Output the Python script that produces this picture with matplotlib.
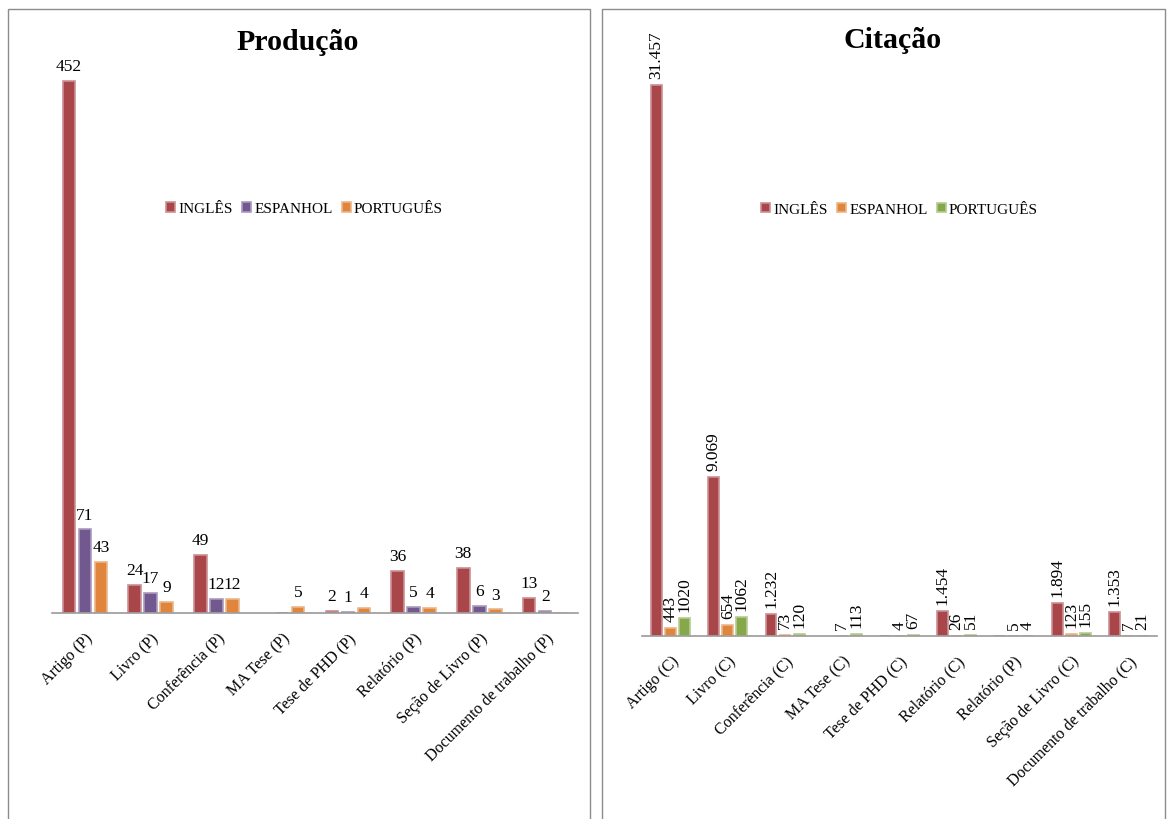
import numpy as np
import matplotlib.pyplot as plt
import matplotlib.colors as mc
from matplotlib.patches import Rectangle

plt.rcParams['font.family'] = ['Liberation Serif', 'DejaVu Serif']

# ---- data: Produção ----
prod_cats = ['Artigo (P)', 'Livro (P)', 'Conferência (P)', 'MA Tese (P)',
             'Tese de PHD (P)', 'Relatório (P)', 'Seção de Livro (P)',
             'Documento de trabalho (P)']
prod_ingles = [452, 24, 49, np.nan, 2, 36, 38, 13]
prod_espanhol = [71, 17, 12, 0, 1, 5, 6, 2]
prod_portugues = [43, 9, 12, 5, 4, 4, 3, 0]

# ---- data: Citação ----
cit_cats = ['Artigo (C)', 'Livro (C)', 'Conferência (C)', 'MA Tese (C)',
            'Tese de PHD (C)', 'Relatório (C)', 'Relatório (P)',
            'Seção de Livro (C)', 'Documento de trabalho (C)']
cit_ingles = [31457, 9069, 1232, np.nan, 0, 1454, 0, 1894, 1353]
cit_espanhol = [443, 654, 73, 7, 4, 26, 5, 123, 7]
cit_portugues = [1020, 1062, 120, 113, 67, 51, 4, 155, 21]
cit_ingles_lbl = ['31.457', '9.069', '1.232', '', '', '1.454', '', '1.894', '1.353']
cit_espanhol_lbl = ['443', '654', '73', '7', '4', '26', '5', '123', '7']
cit_portugues_lbl = ['1020', '1062', '120', '113', '67', '51', '4', '155', '21']

series_names = ['INGLÊS', 'ESPANHOL', 'PORTUGUÊS']

RED = '#A8464A'
PURPLE = '#71598F'
ORANGE = '#E0853C'
GREEN = '#86A84A'


def lighten(c, f=0.4):
    r, g, b = mc.to_rgb(c)
    return (r + (1 - r) * f, g + (1 - g) * f, b + (1 - b) * f)


fig = plt.figure(figsize=(11.71, 8.2), dpi=100)

# panel frames
for x0, x1 in [(8, 590), (602, 1165)]:
    fig.patches.append(Rectangle((x0 / 1171, -0.05), (x1 - x0) / 1171, 1.05 - 10 / 820,
                                 transform=fig.transFigure, fill=False,
                                 edgecolor='#8c8c8c', linewidth=1.0))

w = 0.19
step = 0.245


def setup(ax, cats):
    for s in ['top', 'right', 'left']:
        ax.spines[s].set_visible(False)
    ax.spines['bottom'].set_color('#9a9a9a')
    ax.spines['bottom'].set_linewidth(1.2)
    ax.set_yticks([])
    ax.set_xticks(np.arange(len(cats)))
    ax.set_xticklabels(cats, rotation=45, ha='right', rotation_mode='anchor', fontsize=11.5)
    ax.tick_params(axis='x', length=0, pad=12)
    ax.set_xlim(-0.5, len(cats) - 0.5)


# ---- Produção ----
ax1 = fig.add_axes([52 / 1171, 206 / 820, 526 / 1171, 554 / 820])
x = np.arange(len(prod_cats))
for i, (vals, col) in enumerate(zip([prod_ingles, prod_espanhol, prod_portugues],
                                    [RED, PURPLE, ORANGE])):
    pos = x + (i - 1) * step
    ax1.bar(pos, vals, width=w, color=col, edgecolor=lighten(col), linewidth=1.2,
            label=series_names[i])
    for p, v in zip(pos, vals):
        if np.isnan(v) or v == 0:
            continue
        ax1.annotate(f'{int(v)}', (p, v), xytext=(0, 5), textcoords='offset points',
                     ha='center', va='bottom', fontsize=12.5)
ax1.set_ylim(0, 471)
setup(ax1, prod_cats)
ax1.legend(loc='upper center', bbox_to_anchor=(0.48, 0.767), ncol=3, frameon=False,
           fontsize=11, handlelength=0.6, handleheight=0.6, handletextpad=0.2,
           columnspacing=0.6)
fig.text(298 / 1171, 1 - 42 / 820, 'Produção', ha='center', va='center',
         fontsize=21.5, fontweight='bold')

# ---- Citação ----
ax2 = fig.add_axes([642 / 1171, 183 / 820, 515 / 1171, 577 / 820])
x = np.arange(len(cit_cats))
for i, (vals, lbls, col) in enumerate(zip([cit_ingles, cit_espanhol, cit_portugues],
                                          [cit_ingles_lbl, cit_espanhol_lbl, cit_portugues_lbl],
                                          [RED, ORANGE, GREEN])):
    pos = x + (i - 1) * step
    ax2.bar(pos, vals, width=w, color=col, edgecolor=lighten(col), linewidth=1.2,
            label=series_names[i])
    for p, v, t in zip(pos, vals, lbls):
        if not t:
            continue
        ax2.annotate(t, (p, v), xytext=(0, 5), textcoords='offset points',
                     ha='center', va='bottom', rotation=90, fontsize=12.5)
ax2.set_ylim(0, 32940)
setup(ax2, cit_cats)
ax2.legend(loc='upper center', bbox_to_anchor=(0.5, 0.775), ncol=3, frameon=False,
           fontsize=11, handlelength=0.6, handleheight=0.6, handletextpad=0.2,
           columnspacing=0.6)
fig.text(893 / 1171, 1 - 40 / 820, 'Citação', ha='center', va='center',
         fontsize=21.5, fontweight='bold')

fig.savefig('out.png', dpi=100, facecolor='white')
